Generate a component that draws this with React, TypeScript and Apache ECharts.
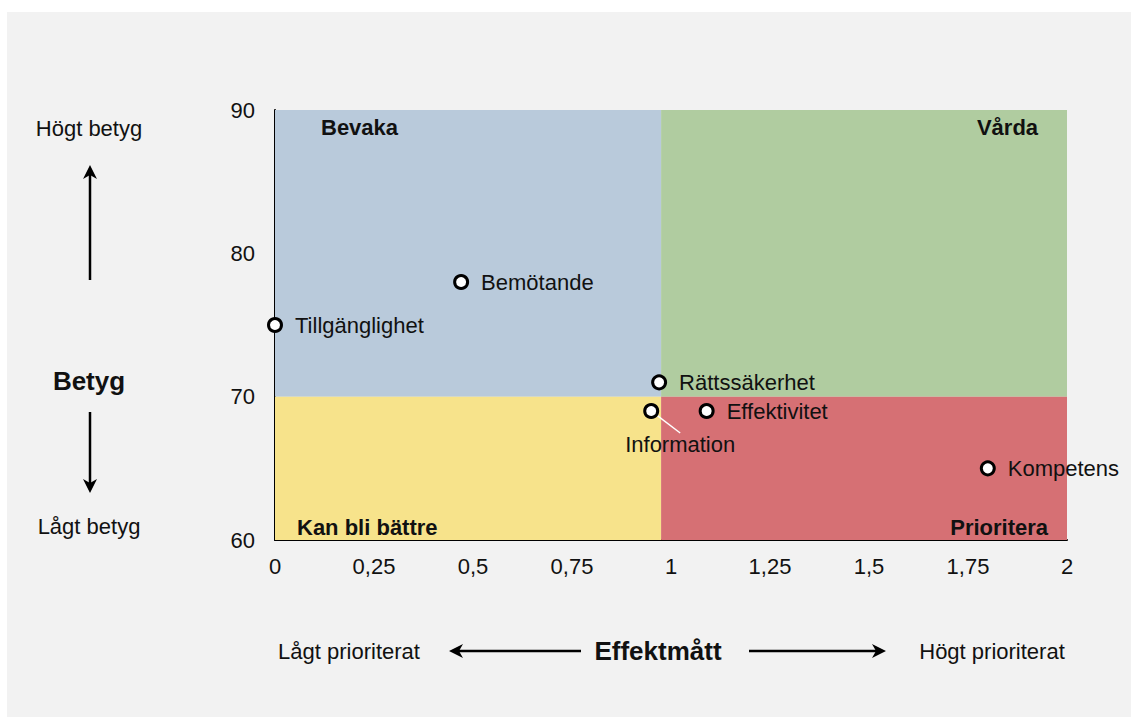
import React, { useEffect, useRef } from "react";
import * as echarts from "echarts";

const pointNames = ["Tillgänglighet", "Bemötande", "Rättssäkerhet", "Information", "Effektivitet", "Kompetens"];
const effektValues = [0.0, 0.47, 0.97, 0.95, 1.09, 1.8];
const betygValues = [75, 78, 71, 69, 69, 65];
const xTickLabels = ["0", "0,25", "0,5", "0,75", "1", "1,25", "1,5", "1,75", "2"];
const xRange = [0, 2];
const yRange = [60, 90];
const quadrantSplit = { x: 0.975, y: 70 };
const quadrantNames = ["Bevaka", "Vårda", "Kan bli bättre", "Prioritera"];

const FONT = "'Liberation Sans', Arial, Helvetica, sans-serif";

export default function App() {
  const ref = useRef<HTMLDivElement>(null);
  useEffect(() => {
    if (!ref.current) return;
    const chart = echarts.init(ref.current, null, { renderer: "svg" });
    const qLabel = (pos: number[], align: string) => ({
      show: true,
      position: pos,
      align,
      verticalAlign: "middle",
      fontFamily: FONT,
      fontWeight: "bold",
      fontSize: 22,
      color: "#111",
    });
    const arrowH = (x1: number, x2: number, y: number, tipLeft: boolean) => {
      const tip = tipLeft ? x1 : x2;
      const d = tipLeft ? 1 : -1;
      return [
        { type: "line", shape: { x1: tipLeft ? x1 + 6 : x1, y1: y, x2: tipLeft ? x2 : x2 - 6, y2: y }, style: { stroke: "#000", lineWidth: 2.5 } },
        { type: "polygon", shape: { points: [[tip, y], [tip + d * 14, y - 7], [tip + d * 10, y], [tip + d * 14, y + 7]] }, style: { fill: "#000" } },
      ];
    };
    const arrowV = (x: number, y1: number, y2: number, tipTop: boolean) => {
      const tip = tipTop ? y1 : y2;
      const d = tipTop ? 1 : -1;
      return [
        { type: "line", shape: { x1: x, y1: tipTop ? y1 + 6 : y1, x2: x, y2: tipTop ? y2 : y2 - 6 }, style: { stroke: "#000", lineWidth: 2.5 } },
        { type: "polygon", shape: { points: [[x, tip], [x - 7, tip + d * 14], [x, tip + d * 10], [x + 7, tip + d * 14]] }, style: { fill: "#000" } },
      ];
    };
    const txt = (t: string, x: number, y: number, size: number, bold = false) => ({
      type: "text",
      x,
      y,
      style: { text: t, fontFamily: FONT, fontSize: size, fontWeight: bold ? "bold" : "normal", fill: "#111", align: "center", verticalAlign: "middle" },
    });

    chart.setOption({
      animation: false,
      backgroundColor: "#f2f2f2",
      grid: { left: 268, top: 98, right: 64, bottom: 177 },
      xAxis: {
        type: "value",
        min: xRange[0],
        max: xRange[1],
        interval: 0.25,
        splitLine: { show: false },
        axisTick: { show: false },
        axisLine: { show: true, onZero: false, lineStyle: { color: "#000", width: 2 } },
        axisLabel: {
          margin: 15,
          fontFamily: FONT,
          fontSize: 22,
          color: "#111",
          formatter: (v: number) => xTickLabels[Math.round(v / 0.25)] ?? "",
        },
      },
      yAxis: {
        type: "value",
        min: yRange[0],
        max: yRange[1],
        interval: 10,
        splitLine: { show: false },
        axisTick: { show: false },
        axisLine: { show: true, onZero: false, lineStyle: { color: "#000", width: 2 } },
        axisLabel: { margin: 20, fontFamily: FONT, fontSize: 22, color: "#111" },
      },
      series: [
        {
          type: "scatter",
          symbol: "circle",
          symbolSize: 13,
          itemStyle: { color: "#fff", borderColor: "#000", borderWidth: 3, opacity: 1 },
          label: {
            show: true,
            position: "right",
            distance: 12,
            formatter: (p: any) => p.name,
            fontFamily: FONT,
            fontSize: 22,
            color: "#111",
          },
          labelLine: { show: false, lineStyle: { color: "#fff", width: 1.5 } },
          labelLayout: (p: any) => (p.dataIndex === 3 ? { dx: 29, dy: 8 } : {}),
          data: pointNames.map((n, i) => ({
            name: n,
            value: [effektValues[i], betygValues[i]],
            label: i === 3 ? { position: "bottom", distance: 6 } : undefined,
            labelLine: i === 3 ? { show: true, lineStyle: { color: "#fff", width: 1.5 } } : { show: false },
          })),
          markArea: {
            silent: true,
            data: [
              [
                { xAxis: xRange[0], yAxis: quadrantSplit.y, itemStyle: { color: "#b9cadb", opacity: 1 }, label: qLabel([46, 17], "left"), name: quadrantNames[0] },
                { xAxis: quadrantSplit.x, yAxis: yRange[1] },
              ],
              [
                { xAxis: quadrantSplit.x, yAxis: quadrantSplit.y, itemStyle: { color: "#b0cca0", opacity: 1 }, label: qLabel([377, 17], "right"), name: quadrantNames[1] },
                { xAxis: xRange[1], yAxis: yRange[1] },
              ],
              [
                { xAxis: xRange[0], yAxis: yRange[0], itemStyle: { color: "#f7e38b", opacity: 1 }, label: qLabel([22, 131], "left"), name: quadrantNames[2] },
                { xAxis: quadrantSplit.x, yAxis: quadrantSplit.y },
              ],
              [
                { xAxis: quadrantSplit.x, yAxis: yRange[0], itemStyle: { color: "#d67074", opacity: 1 }, label: qLabel([387, 131], "right"), name: quadrantNames[3] },
                { xAxis: xRange[1], yAxis: quadrantSplit.y },
              ],
            ],
          },
        },
      ],
      graphic: [
        txt("Högt betyg", 82, 116, 22),
        ...arrowV(83, 153, 268, true),
        txt("Betyg", 82, 369, 26, true),
        ...arrowV(83, 400, 481, false),
        txt("Lågt betyg", 82, 514, 22),
        txt("Lågt prioriterat", 342, 639, 22),
        ...arrowH(442, 574, 639, true),
        txt("Effektmått", 651, 639, 26, true),
        ...arrowH(742, 879, 639, false),
        txt("Högt prioriterat", 985, 639, 22),
      ],
    });
    return () => chart.dispose();
  }, []);
  return (
    <div style={{ position: "fixed", left: 0, top: 0, width: 1131, height: 717, background: "#fff" }}>
      <div ref={ref} style={{ position: "absolute", left: 7, top: 12, width: 1124, height: 705 }} />
    </div>
  );
}
